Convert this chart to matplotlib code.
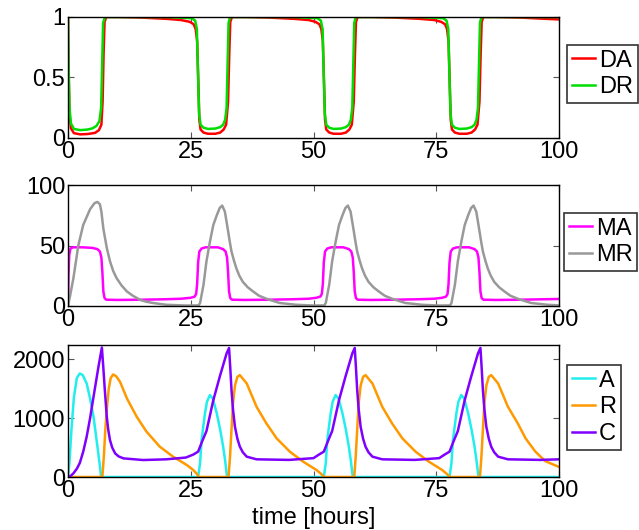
import matplotlib
matplotlib.use("Agg")
import matplotlib.pyplot as plt

plt.rcParams['font.family'] = ['Liberation Sans', 'DejaVu Sans']

# ---------------- data ----------------
t_DA = [0, 0.1, 0.3, 0.6, 1.2, 2.5, 4.0, 5.5, 6.3, 6.8, 7.05, 7.25, 7.45, 7.8, 10, 15, 20, 23, 24.8, 25.6,
        26.0, 26.3, 26.55, 26.75, 27.0, 27.6, 28.5, 30.0, 31.0, 31.7, 32.2, 32.6, 32.85, 33.05, 33.4, 36, 41, 46, 49,
        50.4, 51.2, 51.6, 51.9, 52.15, 52.35, 52.6, 53.2, 54.1, 55.6, 56.6, 57.3, 57.8, 58.2, 58.45, 58.65, 59.0,
        61.6, 66.6, 71.6, 74.6, 76.0, 76.8, 77.2, 77.5, 77.75, 77.95, 78.2, 78.8, 79.7, 81.2, 82.2, 82.9, 83.4,
        83.8, 84.05, 84.25, 84.6, 87.2, 92.2, 97.2, 100]
DA = [1.0, 0.6, 0.2, 0.08, 0.04, 0.03, 0.033, 0.042, 0.065, 0.11, 0.3, 0.7, 0.96, 1.0, 1.0, 0.995, 0.985, 0.975, 0.96, 0.94,
      0.9, 0.8, 0.45, 0.15, 0.07, 0.045, 0.035, 0.035, 0.045, 0.07, 0.11, 0.3, 0.7, 0.96, 1.0, 1.0, 0.995, 0.985, 0.975,
      0.96, 0.94, 0.9, 0.8, 0.45, 0.15, 0.07, 0.045, 0.035, 0.035, 0.045, 0.07, 0.11, 0.3, 0.7, 0.96, 1.0,
      1.0, 0.995, 0.985, 0.975, 0.96, 0.94, 0.9, 0.8, 0.45, 0.15, 0.07, 0.045, 0.035, 0.035, 0.045, 0.07, 0.11,
      0.3, 0.7, 0.96, 1.0, 1.0, 0.995, 0.985, 0.98]

t_DR = [0, 0.1, 0.3, 0.6, 1.2, 2.5, 4.0, 5.0, 5.8, 6.4, 6.75, 6.95, 7.15, 7.5, 10, 20, 25.2, 25.9, 26.25, 26.5,
        26.7, 27.0, 27.6, 28.5, 30.0, 31.0, 31.6, 32.0, 32.3, 32.5, 32.7, 33.0, 36, 46, 50.8, 51.5, 51.85, 52.1,
        52.3, 52.6, 53.2, 54.1, 55.6, 56.6, 57.2, 57.6, 57.9, 58.1, 58.3, 58.6, 61.6, 71.6, 76.4, 77.1, 77.45, 77.7,
        77.9, 78.2, 78.8, 79.7, 81.2, 82.2, 82.8, 83.2, 83.5, 83.7, 83.9, 84.2, 87.2, 100]
DR = [1.0, 0.65, 0.25, 0.12, 0.075, 0.065, 0.07, 0.08, 0.1, 0.14, 0.25, 0.6, 0.95, 1.0, 1.0, 1.0, 0.99, 0.97, 0.9, 0.5,
      0.2, 0.11, 0.085, 0.075, 0.078, 0.09, 0.11, 0.15, 0.25, 0.6, 0.95, 1.0, 1.0, 1.0, 0.99, 0.97, 0.9, 0.5,
      0.2, 0.11, 0.085, 0.075, 0.078, 0.09, 0.11, 0.15, 0.25, 0.6, 0.95, 1.0, 1.0, 1.0, 0.99, 0.97, 0.9, 0.5,
      0.2, 0.11, 0.085, 0.075, 0.078, 0.09, 0.11, 0.15, 0.25, 0.6, 0.95, 1.0, 1.0, 1.0]

t_MA = [0, 0.1, 0.25, 0.5, 1.0, 3, 5.0, 6.0, 6.5, 6.8, 7.0, 7.2, 7.45, 7.8, 10, 15, 20, 23, 25, 25.8, 26.1, 26.3,
        26.5, 26.75, 27.2, 28, 30.5, 31.6, 32.1, 32.4, 32.6, 32.8, 33.05, 33.4, 36, 41, 46, 49, 50.6, 51.4, 51.7,
        51.9, 52.1, 52.35, 52.8, 53.6, 56.1, 57.2, 57.7, 58.0, 58.2, 58.4, 58.65, 59.0, 61.6, 66.6, 71.6, 74.6,
        76.2, 77.0, 77.3, 77.5, 77.7, 77.95, 78.4, 79.2, 81.7, 82.8, 83.3, 83.6, 83.8, 84.0, 84.25, 84.6, 87.2,
        92.2, 97.2, 100]
MA = [0, 25, 42, 47.5, 48.5, 48.5, 48, 47, 45, 40, 28, 12, 6.5, 5.2, 5.0, 5.2, 5.6, 6.0, 6.8, 7.8, 10, 18,
      36, 45, 47.5, 48.5, 48.5, 47, 45, 40, 28, 12, 6.5, 5.2, 5.0, 5.2, 5.6, 6.0, 6.8, 7.8, 10,
      18, 36, 45, 47.5, 48.5, 48.5, 47, 45, 40, 28, 12, 6.5, 5.2, 5.0, 5.2, 5.6, 6.0,
      6.8, 7.8, 10, 18, 36, 45, 47.5, 48.5, 48.5, 47, 45, 40, 28, 12, 6.5, 5.2, 5.0,
      5.2, 5.6, 5.8]

t_MR = [0, 0.5, 1.1, 2.1, 3.1, 4.5, 5.4, 6.0, 6.5, 6.8, 7.2, 7.55, 7.9, 8.55, 9.2, 9.9, 10.9, 12, 13.2, 14.7,
        16, 17.3, 20, 24,
        26.6, 26.9, 27.6, 28.2, 28.9, 29.6, 30.3, 30.9, 31.4, 31.95, 32.6, 32.95, 33.3, 33.8, 34.3, 34.9, 35.6,
        36.6, 37.7, 38.9, 40.4, 43.1, 46.5, 50,
        52.2, 52.5, 53.2, 53.8, 54.5, 55.2, 55.9, 56.5, 57.0, 57.55, 58.2, 58.55, 58.9, 59.4, 59.9, 60.5, 61.2,
        62.2, 63.3, 64.5, 66.0, 68.7, 72.1, 75.6,
        77.8, 78.1, 78.8, 79.4, 80.1, 80.8, 81.5, 82.1, 82.6, 83.15, 83.8, 84.15, 84.5, 85.0, 85.5, 86.1, 86.8,
        87.8, 88.9, 90.1, 91.6, 94.3, 97.7, 100]
MR = [0, 10, 23, 50, 67, 80, 85, 86, 84, 78, 64, 56, 48, 37, 29, 23, 17, 12, 8.5, 5,
      3.5, 2.5, 1, 0.4,
      0.5, 2.5, 17.6, 37, 53, 67, 75, 81, 83, 78, 62, 53, 45, 37.5, 31, 25, 20,
      15.5, 12, 8.5, 6, 2.5, 1, 0.4,
      0.5, 2.5, 17.6, 37, 53, 67, 75, 81, 83, 78, 62, 53, 45, 37.5, 31, 25, 20,
      15.5, 12, 8.5, 6, 2.5, 1, 0.4,
      0.5, 2.5, 17.6, 37, 53, 67, 75, 81, 83, 78, 62, 53, 45, 37.5, 31, 25, 20,
      15.5, 12, 8.5, 6, 2.5, 1, 0.5]

t_A = [0, 0.3, 0.7, 1.2, 1.8, 2.4, 3.0, 3.8, 4.5, 5.2, 6.0, 6.4, 6.75,
       26.5, 26.9, 27.2, 27.9, 28.3, 28.9, 29.5, 30.3, 31.0, 31.6, 32.0, 32.4,
       52.1, 52.5, 52.8, 53.5, 53.9, 54.5, 55.1, 55.9, 56.6, 57.2, 57.6, 58.0,
       77.7, 78.1, 78.4, 79.1, 79.5, 80.1, 80.7, 81.5, 82.2, 82.8, 83.2, 83.6, 100]
A = [0, 250, 800, 1350, 1680, 1757, 1730, 1588, 1330, 1022, 514, 250, 0,
     0, 237, 627, 1080, 1276, 1390, 1330, 1080, 800, 514, 280, 0,
     0, 237, 627, 1080, 1276, 1390, 1330, 1080, 800, 514, 280, 0,
     0, 237, 627, 1080, 1276, 1390, 1330, 1080, 800, 514, 280, 0, 0]

t_R = [0, 7.0, 7.3, 7.6, 7.9, 8.3, 8.7, 9.2, 9.8, 10.6, 12, 14, 16, 18.7, 21.4, 24.2, 25.5, 26.3, 26.6,
       32.7, 33.0, 33.3, 33.6, 34.0, 34.5, 35.0, 36.4, 38.4, 40.4, 42.5, 45.2, 47.9, 50.6, 51.6, 52.1,
       58.3, 58.6, 58.9, 59.2, 59.6, 60.1, 60.6, 62.0, 64.0, 66.0, 68.1, 70.8, 73.5, 76.2, 77.2, 77.7,
       83.9, 84.2, 84.5, 84.8, 85.2, 85.7, 86.2, 87.6, 89.6, 91.6, 93.2, 95.2, 97.2, 100]
R = [0, 0, 350, 800, 1150, 1500, 1680, 1740, 1710, 1616, 1333, 1022, 768, 514, 345, 203, 119, 50, 0,
     0, 350, 800, 1250, 1550, 1700, 1729, 1588, 1192, 910, 655, 429, 260, 119, 50, 0,
     0, 350, 800, 1250, 1550, 1700, 1729, 1588, 1192, 910, 655, 429, 260, 119, 50, 0,
     0, 350, 800, 1250, 1550, 1700, 1729, 1588, 1192, 910, 655, 429, 270, 170]

t_C = [0, 0.5, 1.1, 1.8, 2.4, 3.1, 3.8, 4.5, 5.2, 6.2, 6.9, 7.2, 7.5, 7.9, 8.2, 8.55, 9.0, 9.6, 10.3, 11.3,
       15.3, 20, 24, 25.5,
       26.5, 27.3, 28.2, 29.6, 30.9, 32.3, 32.8, 33.05, 33.3, 33.6, 34.0, 34.5, 35.0, 35.6, 36.4, 38.4, 45, 50, 51.1,
       52.1, 52.9, 53.8, 55.2, 56.5, 57.9, 58.4, 58.65, 58.9, 59.2, 59.6, 60.1, 60.6, 61.2, 62.0, 64.0, 70.6, 75.6, 76.7,
       77.7, 78.5, 79.4, 80.8, 82.1, 83.5, 84.0, 84.25, 84.5, 84.8, 85.2, 85.7, 86.2, 86.8, 87.6, 89.6, 96.2, 100]
C = [0, 15, 62, 140, 237, 430, 683, 1000, 1361, 1870, 2198, 1850, 1475, 1022, 800, 627, 500, 401, 350, 316,
     288, 300, 330, 380,
     430, 600, 780, 1305, 1700, 2097, 2190, 1850, 1475, 1150, 853, 650, 514, 420, 345, 300, 290, 320, 380,
     430, 600, 780, 1305, 1700, 2097, 2190, 1850, 1475, 1150, 853, 650, 514, 420, 345, 300, 290, 320, 380,
     430, 600, 780, 1305, 1700, 2097, 2190, 1850, 1475, 1150, 853, 650, 514, 420, 345, 300, 290, 300]

x_ticks = [0, 25, 50, 75, 100]
y_ticks_top = [0, 0.5, 1]
y_tick_labels_top = ['0', '0.5', '1']
y_ticks_mid = [0, 50, 100]
y_ticks_bot = [0, 1000, 2000]

# ---------------- figure ----------------
W, H = 639, 530
fig = plt.figure(figsize=(W / 100, H / 100), dpi=100)

def px_axes(x0, y0, x1, y1):
    return fig.add_axes([x0 / W, 1 - y1 / H, (x1 - x0) / W, (y1 - y0) / H])

ax1 = px_axes(68, 17, 559, 138)
ax2 = px_axes(68, 185, 559, 306)
ax3 = px_axes(68, 345, 559, 477)

FS = 17
LW = 1.8

ax1.plot(t_DA, DA, color='#ff0000', lw=LW, label='DA')
ax1.plot(t_DR, DR, color='#00dd00', lw=LW, label='DR')
ax2.plot(t_MA, MA, color='#ff00ff', lw=LW, label='MA')
ax2.plot(t_MR, MR, color='#999999', lw=LW, label='MR')
ax3.plot(t_A, A, color='#22eeee', lw=LW, label='A')
ax3.plot(t_R, R, color='#ff9900', lw=LW, label='R')
ax3.plot(t_C, C, color='#7f00ff', lw=LW, label='C')

ax1.set_ylim(0, 1)
ax2.set_ylim(0, 100)
ax3.set_ylim(0, 2240)
ax1.set_yticks(y_ticks_top)
ax1.set_yticklabels(y_tick_labels_top)
ax2.set_yticks(y_ticks_mid)
ax3.set_yticks(y_ticks_bot)

legend_anchor = [(567, 45), (564, 213), (567, 365)]
for ax, (lx, ly) in zip([ax1, ax2, ax3], legend_anchor):
    ax.set_xlim(0, 100)
    ax.set_xticks(x_ticks)
    ax.tick_params(direction='in', top=True, right=True, length=4, width=0.8,
                   labelsize=FS, pad=2, color='#555555')
    for s in ax.spines.values():
        s.set_linewidth(1.0)
    leg = ax.legend(loc='upper left', bbox_to_anchor=(lx / W, 1 - ly / H),
                    bbox_transform=fig.transFigure, borderaxespad=0,
                    fontsize=FS, frameon=True, fancybox=False, edgecolor='black',
                    handlelength=1.0, handletextpad=0.15, borderpad=0.2,
                    labelspacing=0.2)
    leg.get_frame().set_linewidth(1.2)

ax3.set_xlabel('time [hours]', fontsize=FS, labelpad=4)

fig.savefig('out.png', dpi=100)
